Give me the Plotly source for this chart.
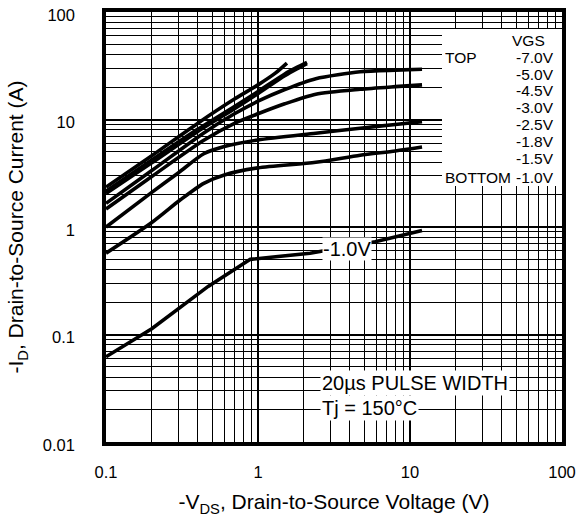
import plotly.graph_objects as go

# ---------------- data ----------------
vgs_labels = ["-7.0V", "-5.0V", "-4.5V", "-3.0V", "-2.5V", "-1.8V", "-1.5V", "-1.0V"]

vds_m70 = [0.1, 0.2, 0.4, 0.7, 1.0, 1.3, 1.55]
id_m70 = [2.35, 4.6, 9.2, 15.5, 21.0, 27.0, 33.5]

vds_m50 = [0.1, 0.2, 0.4, 0.7, 1.0, 1.5, 1.8, 2.1]
id_m50 = [2.15, 4.2, 8.1, 13.2, 18.2, 26.5, 30.5, 34.0]

vds_m45 = [0.1, 0.2, 0.4, 0.7, 1.0, 1.5, 1.8, 2.1]
id_m45 = [2.05, 3.95, 7.7, 12.6, 17.4, 25.5, 29.5, 33.0]

vds_m30 = [0.1, 0.2, 0.44, 0.7, 1.0, 1.5, 2.4, 4.7, 8.0, 12.0]
id_m30 = [1.66, 3.35, 7.5, 11.3, 14.8, 19.0, 24.0, 27.8, 28.8, 29.3]

vds_m25 = [0.1, 0.2, 0.44, 0.7, 1.0, 1.5, 2.4, 4.7, 8.0, 12.0]
id_m25 = [1.47, 2.95, 6.4, 9.2, 11.3, 14.0, 17.2, 19.1, 20.2, 21.0]

vds_m18 = [0.1, 0.2, 0.3, 0.44, 0.6, 1.0, 2.4, 4.7, 8.0, 12.0]
id_m18 = [1.0, 2.1, 3.2, 4.8, 5.6, 6.45, 7.45, 8.3, 9.0, 9.55]

vds_m15 = [0.1, 0.2, 0.31, 0.44, 0.6, 1.0, 2.4, 4.7, 8.0, 12.0]
id_m15 = [0.57, 1.1, 1.8, 2.55, 3.05, 3.55, 4.0, 4.65, 5.1, 5.55]

vds_m10 = [0.1, 0.2, 0.47, 0.89, 2.2, 5.9, 12.0]
id_m10 = [0.062, 0.113, 0.28, 0.50, 0.57, 0.73, 0.93]

x_tickvals = [0.1, 1, 10, 100]
x_ticktext = ["0.1", "1", "10", "100"]
y_tickvals = [0.01, 0.1, 1, 10, 100]
y_ticktext = ["0.01", "0.1", "1", "10", "100"]

legend_title = "VGS"
legend_top = "TOP"
legend_bottom = "BOTTOM"
note_pulse = "20µs PULSE WIDTH"
note_temp = "Tj = 150°C"
curve_label = "-1.0V"

# ---------------- figure ----------------
FONT = "Liberation Sans, Arial, Helvetica, sans-serif"
series = [
    (vds_m70, id_m70, "spline"),
    (vds_m50, id_m50, "spline"),
    (vds_m45, id_m45, "spline"),
    (vds_m30, id_m30, "spline"),
    (vds_m25, id_m25, "spline"),
    (vds_m18, id_m18, "spline"),
    (vds_m15, id_m15, "spline"),
    (vds_m10, id_m10, "linear"),
]

fig = go.Figure()
for (xs, ys, shp), name in zip(series, vgs_labels):
    fig.add_trace(go.Scatter(
        x=xs, y=ys, mode="lines", name=name,
        line=dict(color="black", width=3.6, shape=shp, smoothing=0.7),
        showlegend=False,
    ))

x_minor = [m * 10.0 ** e for e in range(-1, 2) for m in range(2, 10)]
y_minor = [m * 10.0 ** e for e in range(-2, 2) for m in range(2, 10)]

axis_common = dict(
    type="log", showline=True, linecolor="black", linewidth=3.5, mirror=True,
    showgrid=True, gridcolor="black", gridwidth=2.2, ticks="",
    tickfont=dict(family=FONT, size=16.5, color="black"),
    title_font=dict(family=FONT, size=21, color="black"),
    ticklabeloverflow="allow", automargin=False,
)

fig.update_xaxes(
    **axis_common, range=[-1, 2], tickmode="array",
    tickvals=x_tickvals, ticktext=x_ticktext,
    minor=dict(tickmode="array", tickvals=x_minor, showgrid=True,
               gridcolor="black", gridwidth=1, ticks=""),
    title_text="-V<sub>DS</sub>, Drain-to-Source Voltage (V)",
    ticklabelstandoff=12, title_standoff=16,
)
fig.update_yaxes(
    **axis_common, range=[-2, 2], tickmode="array",
    tickvals=y_tickvals, ticktext=y_ticktext,
    minor=dict(tickmode="array", tickvals=y_minor, showgrid=True,
               gridcolor="black", gridwidth=1, ticks=""),
    title_text="-I<sub>D</sub>, Drain-to-Source Current (A)",
    ticklabelstandoff=24, title_standoff=14, ticklabelshift=3,
)

# body margin is removed by the post script, figure fills the window
W, H = 585, 531
L, R, T, B = 106, 23, 12, 89
pw, ph = W - L - R, H - T - B


def px(xp):
    return (xp - L) / pw


def py(yp):
    return (H - B - yp) / ph


# white box behind the VGS list
fig.add_shape(type="rect", xref="paper", yref="paper",
              x0=px(442), x1=px(562), y0=py(186), y1=py(29),
              fillcolor="white", line=dict(width=0), layer="above")

leg_font = dict(family=FONT, size=15.5, color="black")
rows_y = [57.5, 75, 91, 107.5, 124.5, 141, 158, 177]
fig.add_annotation(xref="paper", yref="paper", x=px(547), y=py(41),
                   text=legend_title, showarrow=False, xanchor="right",
                   yanchor="middle", font=leg_font)
fig.add_annotation(xref="paper", yref="paper", x=px(443), y=py(rows_y[0]),
                   text=legend_top, showarrow=False, xanchor="left",
                   yanchor="middle", font=leg_font)
fig.add_annotation(xref="paper", yref="paper", x=px(443), y=py(rows_y[-1]),
                   text=legend_bottom, showarrow=False, xanchor="left",
                   yanchor="middle", font=leg_font)
for lab, yy in zip(vgs_labels, rows_y):
    fig.add_annotation(xref="paper", yref="paper", x=px(556), y=py(yy),
                       text=lab, showarrow=False, xanchor="right",
                       yanchor="middle", font=leg_font)

big_font = dict(family=FONT, size=20, color="black")
fig.add_annotation(xref="paper", yref="paper", x=px(347), y=py(249),
                   text=curve_label, showarrow=False, xanchor="center",
                   yanchor="middle", font=big_font, bgcolor="white", borderpad=0)
fig.add_annotation(xref="paper", yref="paper", x=px(320), y=py(383),
                   text=note_pulse, showarrow=False, xanchor="left",
                   yanchor="middle", font=big_font, bgcolor="white", borderpad=1)
fig.add_annotation(xref="paper", yref="paper", x=px(320), y=py(408),
                   text=note_temp, showarrow=False, xanchor="left",
                   yanchor="middle", font=big_font, bgcolor="white", borderpad=1)

fig.update_layout(
    width=W, height=H, autosize=False,
    margin=dict(l=L, r=R, t=T, b=B, pad=0),
    paper_bgcolor="white", plot_bgcolor="white",
    font=dict(family=FONT, color="black"),
    showlegend=False,
)

fig.write_html("out.html",
               config={"displayModeBar": False},
               post_script="document.body.style.margin='0';"
                           "document.body.style.overflow='hidden';")
